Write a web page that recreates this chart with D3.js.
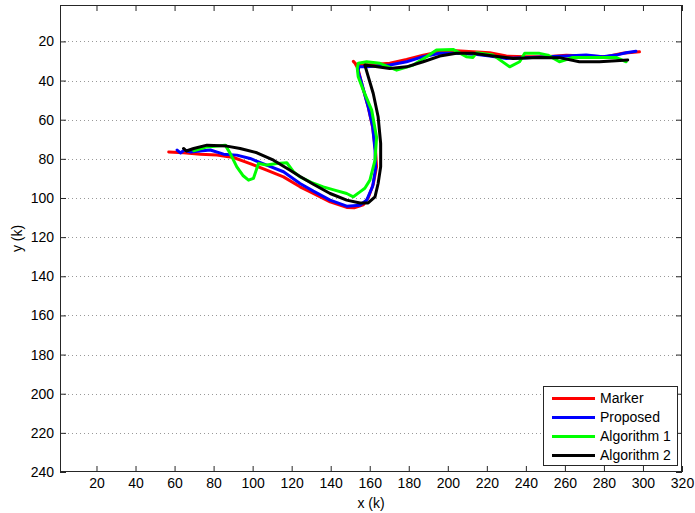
<!DOCTYPE html>
<html><head><meta charset="utf-8">
<script src="https://cdn.jsdelivr.net/npm/d3@7"></script>
<style>body{margin:0;background:#fff}svg{display:block;font-family:"Liberation Sans",Arial,sans-serif}</style>
</head><body><svg id="c" width="695" height="513"></svg>
<script>
const seriesNames = ["Marker","Proposed","Algorithm 1","Algorithm 2"];
const seriesColors = ["#ff0000","#0000ff","#00ff00","#000000"];
const xTicks = [20,40,60,80,100,120,140,160,180,200,220,240,260,280,300,320];
const yTicks = [20,40,60,80,100,120,140,160,180,200,220,240];
const markerPts = [[57,76.5],[64.6,76.9],[73.2,77.6],[81.7,78.1],[90.2,79.3],[98.7,82.4],[107.2,85.8],[115.8,89.2],[124.3,94.3],[131.1,97.7],[139.7,102],[148.2,104.8],[152,105],[156.7,103.5],[159.2,100],[161.8,93],[163.5,84],[163,76],[161.5,64],[159.2,53.5],[156,42],[154,34],[152.4,31],[151.6,30.2],[153.3,32],[161.8,31.8],[170.3,31.2],[178.9,29.2],[187.4,27],[195.9,25.3],[204.4,24.8],[212.9,25.3],[221.5,25.8],[230,27.5],[240.2,27.8],[250.5,27.8],[260.7,27.1],[270.9,27.5],[281.1,27.8],[289.6,26.1],[298.2,25.3]];
const proposedPts = [[61.3,75.5],[63,77],[65,75.5],[68.1,76.5],[78.3,75.5],[85.1,77.6],[91.9,78.1],[98.7,79.8],[107.2,83.2],[115.8,86.6],[124.3,92.6],[131.1,96.5],[139.7,101.1],[148.2,104.2],[155,103.7],[158.5,101],[161.5,94],[163,85],[162.7,75.5],[161.5,63.6],[159.2,53.4],[155.9,41.5],[154,35],[154.5,33],[158.4,33],[170.3,32.1],[178.9,30.4],[187.4,27.8],[195.9,26.1],[204.4,26.1],[212.9,26.5],[221.5,27.5],[230,28.7],[240.2,28.3],[250.5,27.8],[260.7,27.5],[270.9,27],[279.4,27.8],[286.2,27],[291.3,25.8],[296.4,25]];
const algo1Pts = [[69.8,75.9],[76.6,73.9],[86,73],[88.5,77.2],[91.9,84.1],[95,88.5],[97.9,90.9],[100.4,90],[103,82.4],[107.2,83.2],[112.4,82.4],[117.5,82],[120.9,86.6],[124.3,89.2],[130,92],[136.2,94.3],[142,96],[148.2,97.7],[151.6,99.4],[155,96.9],[157.5,95],[160.1,90.9],[162.7,80.7],[163.5,69],[161,55.1],[156.7,44.9],[154.1,38.1],[153.6,33.8],[154.1,31.2],[158.4,30.4],[165.2,31.2],[173.8,34.7],[182.3,32.1],[189.1,27.8],[194.2,24.4],[202.7,24.1],[209.5,27.8],[212.9,28.2],[214.7,25.8],[223.2,27],[231.7,33],[236.8,30.4],[239.4,26.1],[247,26.1],[251.3,27],[257.2,30.4],[264,28.2],[274.3,28.2],[286.2,28.2],[291.4,30.4]];
const algo2Pts = [[64.6,74.7],[66,76],[69.8,74.7],[76.6,73],[86.8,73.5],[93.6,74.7],[102.2,76.9],[110.7,80.7],[119.2,85.8],[124.3,89],[131.1,93],[139.7,97.7],[148.2,101.1],[155,102.6],[159.2,102.5],[162.7,99.4],[164.3,92.6],[165.6,84],[165.6,72.1],[164.3,58.5],[161.8,46.6],[157.5,32.1],[170.3,33.8],[178.9,33],[187.4,30.4],[195.9,27.5],[204.4,26.1],[212.9,26.1],[223.2,27.5],[233.4,28.7],[247,28.2],[257.2,28.3],[267.4,30.4],[277.7,30.4],[286.2,29.9],[292.2,29.5]];
const allSeries = [markerPts, proposedPts, algo1Pts, algo2Pts];

const L=60, R=682, T=5, B=472;
const FS = "14px";
const svg = d3.select("#c");
const x = d3.scaleLinear().domain([1.3,320]).range([L,R]);
const y = d3.scaleLinear().domain([1.4,240]).range([T,B]);
const axCol = "#262626";

// grid
svg.append("g").selectAll("line").data(yTicks.filter(v=>v<240)).join("line")
  .attr("x1",L).attr("x2",R).attr("y1",d=>Math.round(y(d))+0.5).attr("y2",d=>Math.round(y(d))+0.5)
  .attr("stroke","#999").attr("stroke-width",1).attr("stroke-dasharray","1,3");

// data
svg.append("clipPath").attr("id","clip").append("rect").attr("x",L).attr("y",T).attr("width",R-L).attr("height",B-T);
const line = d3.line().x(d=>x(d[0])).y(d=>y(d[1])).curve(d3.curveLinear);
svg.append("g").attr("clip-path","url(#clip)").selectAll("path").data(allSeries).join("path")
  .attr("d",line).attr("fill","none").attr("stroke",(d,i)=>seriesColors[i])
  .attr("stroke-width",3).attr("stroke-linejoin","round").attr("stroke-linecap","round");

// axes
const tl=6;
const gx = svg.append("g").attr("transform",`translate(0,${B})`).call(d3.axisBottom(x).tickValues(xTicks).tickSize(-tl).tickPadding(6));
const gxt = svg.append("g").attr("transform",`translate(0,${T})`).call(d3.axisTop(x).tickValues(xTicks).tickSize(-tl).tickFormat(""));
const gy = svg.append("g").attr("transform",`translate(${L},0)`).call(d3.axisLeft(y).tickValues(yTicks).tickSize(-tl).tickPadding(6));
const gyr = svg.append("g").attr("transform",`translate(${R},0)`).call(d3.axisRight(y).tickValues(yTicks).tickSize(-tl).tickFormat(""));
[gx,gxt,gy,gyr].forEach(g=>{
  g.attr("font-family",null).attr("font-size",null);
  g.select(".domain").remove();
  g.selectAll("line").attr("stroke",axCol);
  g.selectAll("text").attr("fill","#000").style("font-size",FS).style("font-family","'Liberation Sans',Arial,sans-serif");
});
gx.selectAll("text").attr("y",6);
gy.selectAll("text").attr("x",-6);
svg.append("rect").attr("x",L+0.5).attr("y",T+0.5).attr("width",R-L-1).attr("height",B-T-1)
  .attr("fill","none").attr("stroke",axCol).attr("stroke-width",1);

// labels
svg.append("text").attr("x",(L+R)/2).attr("y",508).attr("text-anchor","middle").style("font-size",FS).text("x (k)");
svg.append("text").attr("transform",`translate(22,${(T+B)/2}) rotate(-90)`).attr("text-anchor","middle").style("font-size",FS).text("y (k)");

// legend
const lg = svg.append("g");
lg.append("rect").attr("x",543.5).attr("y",386.5).attr("width",134).attr("height",79).attr("fill","#fff").attr("stroke",axCol);
seriesNames.forEach((n,i)=>{
  const yy = 398.5 + i*19;
  lg.append("line").attr("x1",552).attr("x2",595).attr("y1",yy).attr("y2",yy).attr("stroke",seriesColors[i]).attr("stroke-width",3);
  lg.append("text").attr("x",600).attr("y",yy).attr("dy","0.35em").style("font-size",FS).text(n);
});
</script></body></html>
